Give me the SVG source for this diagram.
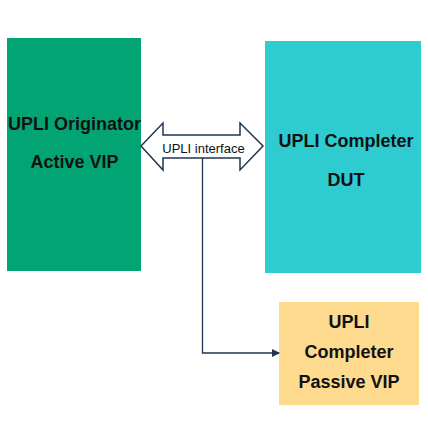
<svg xmlns="http://www.w3.org/2000/svg" width="428" height="429" viewBox="0 0 428 429">
<style>
.lbl{font-family:"Liberation Sans",Arial,sans-serif;font-weight:bold;font-size:18px;fill:#111;text-anchor:middle}
.small{font-family:"Liberation Sans",Arial,sans-serif;font-size:13px;fill:#111;text-anchor:middle}
.conn{stroke:#1F3550;stroke-width:1.3;fill:none}
</style>
<defs>
<marker id="ah" markerWidth="8" markerHeight="8" refX="7" refY="4" orient="auto" markerUnits="userSpaceOnUse">
<path d="M0,0 L8,4 L0,8 Z" fill="#1F3550"/>
</marker>
</defs>
<rect width="428" height="429" fill="#fff"/>
<g id="originator">
<rect x="7" y="38" width="134" height="233" fill="#03A474"/>
<text class="lbl" x="74.5" y="130">UPLI Originator</text>
<text class="lbl" x="74.5" y="168">Active VIP</text>
</g>
<g id="completer">
<rect x="265" y="41" width="156" height="232" fill="#2ECBD1"/>
<text class="lbl" x="346" y="147">UPLI Completer</text>
<text class="lbl" x="346" y="186">DUT</text>
</g>
<g id="passive">
<rect x="279" y="302" width="140" height="103" fill="#FDDA8E"/>
<text class="lbl" x="349" y="328">UPLI</text>
<text class="lbl" x="349" y="358">Completer</text>
<text class="lbl" x="349" y="388">Passive VIP</text>
</g>
<g id="connectors">
<path d="M141,146 L163,123 L163,135 L240,135 L240,123 L263,146 L240,170 L240,158 L163,158 L163,170 Z" fill="#fff" stroke="#1F3550" stroke-width="1.5" stroke-linejoin="miter"/>
<text class="small" x="203.5" y="153">UPLI interface</text>
<path class="conn" d="M202.5,158 L202.5,353 L279,353" marker-end="url(#ah)"/>
</g>
</svg>
